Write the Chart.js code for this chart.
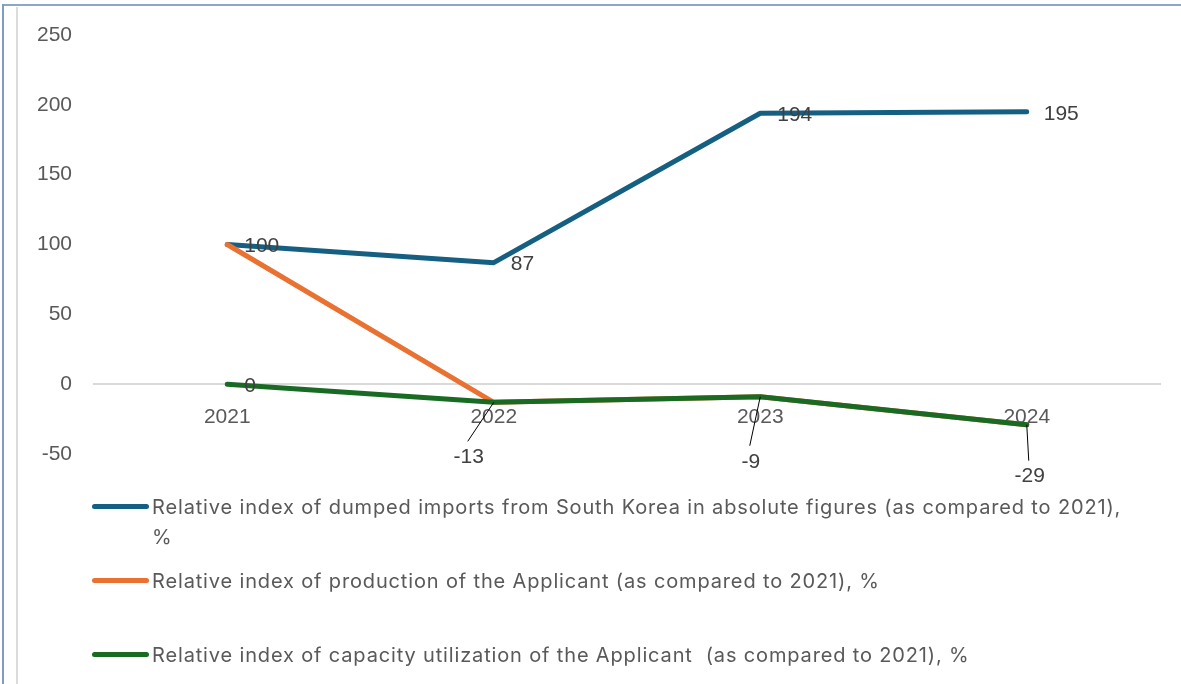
<!DOCTYPE html>
<html><head><meta charset="utf-8">
<script src="https://cdn.jsdelivr.net/npm/chart.js@4.4.1/dist/chart.umd.min.js"></script>
<style>
html,body{margin:0;padding:0;background:#fff;}
#wrap{position:relative;width:1181px;height:684px;overflow:hidden;background:#fff;}
#c{position:absolute;left:0;top:0;}
.bt{position:absolute;left:2px;top:4px;width:1179px;height:2px;background:#8aa6cc;}
.bl{position:absolute;left:2px;top:4px;width:2px;height:680px;background:#7f9cc4;}
.bg{position:absolute;left:16px;top:7px;width:2px;height:677px;background:#dcdcdc;}
#legend{position:absolute;left:0;top:0;width:1181px;height:684px;pointer-events:none;}
.li{position:absolute;left:92px;height:74px;font-family:"Inter","Noto Sans",sans-serif;font-size:20px;letter-spacing:0.85px;line-height:30px;color:#595959;}
.sw{position:absolute;left:0;top:12px;width:57px;height:5px;border-radius:3px;}
.tx{position:absolute;left:60px;top:0;width:975px;white-space:pre-wrap;}
</style>
</head><body>
<div id="wrap">
  <canvas id="c" width="1181" height="684"></canvas>
  <div class="bt"></div><div class="bl"></div><div class="bg"></div>
  <div id="legend"></div>
</div>
<script>
const categories = ['2021', '2022', '2023', '2024'];
const dumpedImports = [100, 87, 194, 195];
const production = [100, -13, -9, -29];
const capacityUtilization = [0, -13, -9, -29];
const yTickValues = [-50, 0, 50, 100, 150, 200, 250];
const seriesNames = [
  'Relative index of dumped imports from South Korea in absolute figures (as compared to 2021), %',
  'Relative index of production of the Applicant (as compared to 2021), %',
  'Relative index of capacity utilization of the Applicant  (as compared to 2021), %'
];
const seriesColors = ['#156082', '#E97132', '#196B24'];

// label placement styles (not data)
const labelPlacement = [
  [{m:'r'},{m:'r'},{m:'r'},{m:'r'}],
  null,
  [{m:'r'},{m:'o',dx:-25,dy:55},{m:'o',dx:-9.5,dy:65},{m:'o',dx:3,dy:52}]
];

const dataLabelPlugin = {
  id: 'dataLabels',
  afterDatasetsDraw(chart) {
    const ctx = chart.ctx;
    ctx.save();
    ctx.font = '21px "Liberation Sans", Arial, sans-serif';
    ctx.fillStyle = '#404040';
    chart.data.datasets.forEach((ds, di) => {
      const pl = labelPlacement[di];
      if (!pl) return;
      const meta = chart.getDatasetMeta(di);
      meta.data.forEach((pt, i) => {
        const p = pl[i];
        const txt = String(ds.data[i]);
        if (p.m === 'r') {
          ctx.textAlign = 'left'; ctx.textBaseline = 'middle';
          ctx.fillText(txt, pt.x + 17, pt.y + 2);
        } else {
          const cx = pt.x + p.dx, cy = pt.y + p.dy;
          ctx.strokeStyle = '#000'; ctx.lineWidth = 1;
          ctx.beginPath(); ctx.moveTo(pt.x, pt.y); ctx.lineTo(cx - 1, cy - 16); ctx.stroke();
          ctx.textAlign = 'center'; ctx.textBaseline = 'middle';
          ctx.fillText(txt, cx, cy);
        }
      });
    });
    ctx.restore();
  }
};

const seriesData = [dumpedImports, production, capacityUtilization];
const orders = [3, 2, 1];
const datasets = seriesData.map((d, i) => ({
  label: seriesNames[i],
  data: d,
  borderColor: seriesColors[i],
  backgroundColor: seriesColors[i],
  borderWidth: 5,
  pointRadius: 0,
  pointHoverRadius: 0,
  tension: 0,
  borderCapStyle: 'round',
  borderJoinStyle: 'round',
  fill: false,
  order: orders[i]
}));

const tickFont = {family: '"Liberation Sans", Arial, sans-serif', size: 21};

new Chart(document.getElementById('c'), {
  type: 'line',
  data: { labels: categories, datasets },
  options: {
    responsive: false,
    animation: false,
    devicePixelRatio: 1,
    layout: { padding: { left: 0, top: 35, right: 21, bottom: 230 } },
    plugins: { legend: { display: false }, tooltip: { enabled: false } },
    scales: {
      x: {
        type: 'category',
        position: { y: 0 },
        offset: true,
        grid: { display: false, drawTicks: false },
        border: { display: true, color: '#d9d9d9', width: 2 },
        ticks: { color: '#595959', font: tickFont, padding: 20, maxRotation: 0, autoSkip: false }
      },
      y: {
        min: -50, max: 250,
        afterBuildTicks(s) { s.ticks = yTickValues.map(v => ({ value: v })); },
        afterFit(s) { s.width = 94; },
        grid: { display: false, drawTicks: false },
        border: { display: false },
        ticks: { color: '#595959', font: tickFont, padding: 22 }
      }
    }
  },
  plugins: [dataLabelPlugin]
});

// HTML legend built from the series
const legend = document.getElementById('legend');
seriesNames.forEach((name, i) => {
  const item = document.createElement('div');
  item.className = 'li';
  item.style.top = (492 + i * 74) + 'px';
  const sw = document.createElement('div');
  sw.className = 'sw';
  sw.style.background = seriesColors[i];
  const tx = document.createElement('div');
  tx.className = 'tx';
  tx.textContent = name;
  item.appendChild(sw); item.appendChild(tx);
  legend.appendChild(item);
});
</script>
</body></html>
